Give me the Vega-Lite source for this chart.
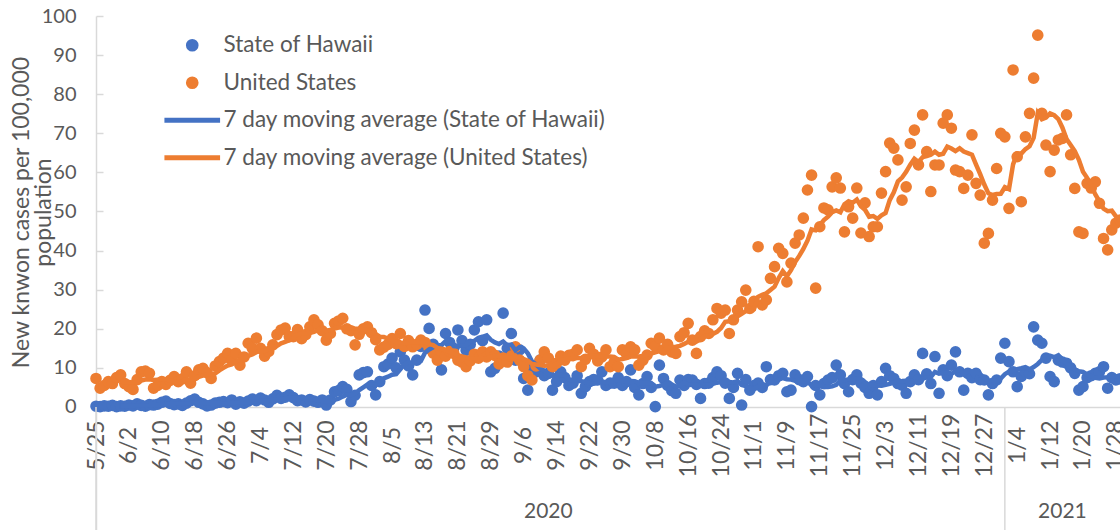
{
  "$schema": "https://vega.github.io/schema/vega-lite/v6.json",
  "width": 1024,
  "height": 514,
  "autosize": {"type": "none"},
  "padding": {"left": 96, "top": 16, "right": 0, "bottom": 0},
  "background": "white",
  "config": {"view": {"stroke": null}, "font": "Lato", "axisX": {"labelOverlap": false}},
  "datasets": {
    "years": [
      {"year": "2020", "start": "2020-05-25", "mid": "2020-09-12"},
      {"year": "2021", "start": "2021-01-01", "mid": "2021-01-15"}
    ],
    "daily": [
      {"date": "2020-05-25", "hawaii": 0.2, "us": 7.3},
      {"date": "2020-05-26", "hawaii": 0.1, "us": 4.8},
      {"date": "2020-05-27", "hawaii": 0.3, "us": 5.5},
      {"date": "2020-05-28", "hawaii": 0.2, "us": 6.5},
      {"date": "2020-05-29", "hawaii": 0.4, "us": 6.0},
      {"date": "2020-05-30", "hawaii": 0.1, "us": 7.5},
      {"date": "2020-05-31", "hawaii": 0.3, "us": 8.2},
      {"date": "2020-06-01", "hawaii": 0.2, "us": 6.0},
      {"date": "2020-06-02", "hawaii": 0.5, "us": 5.2},
      {"date": "2020-06-03", "hawaii": 0.3, "us": 4.5},
      {"date": "2020-06-04", "hawaii": 0.8, "us": 7.0},
      {"date": "2020-06-05", "hawaii": 0.4, "us": 9.0},
      {"date": "2020-06-06", "hawaii": 0.2, "us": 9.2},
      {"date": "2020-06-07", "hawaii": 0.6, "us": 8.6},
      {"date": "2020-06-08", "hawaii": 0.5, "us": 4.8},
      {"date": "2020-06-09", "hawaii": 0.7, "us": 5.5},
      {"date": "2020-06-10", "hawaii": 1.2, "us": 6.5},
      {"date": "2020-06-11", "hawaii": 1.5, "us": 5.8},
      {"date": "2020-06-12", "hawaii": 0.9, "us": 6.8},
      {"date": "2020-06-13", "hawaii": 0.6, "us": 7.8},
      {"date": "2020-06-14", "hawaii": 0.8, "us": 6.5},
      {"date": "2020-06-15", "hawaii": 0.4, "us": 7.2},
      {"date": "2020-06-16", "hawaii": 1.0, "us": 9.0},
      {"date": "2020-06-17", "hawaii": 1.6, "us": 6.1},
      {"date": "2020-06-18", "hawaii": 2.0, "us": 8.0},
      {"date": "2020-06-19", "hawaii": 1.2, "us": 9.5},
      {"date": "2020-06-20", "hawaii": 0.8, "us": 9.9},
      {"date": "2020-06-21", "hawaii": 0.3, "us": 8.8},
      {"date": "2020-06-22", "hawaii": 0.5, "us": 7.3},
      {"date": "2020-06-23", "hawaii": 1.0, "us": 10.5},
      {"date": "2020-06-24", "hawaii": 1.2, "us": 11.6},
      {"date": "2020-06-25", "hawaii": 1.4, "us": 12.5},
      {"date": "2020-06-26", "hawaii": 1.1, "us": 13.7},
      {"date": "2020-06-27", "hawaii": 1.8, "us": 12.0},
      {"date": "2020-06-28", "hawaii": 0.7, "us": 13.7},
      {"date": "2020-06-29", "hawaii": 1.3, "us": 10.7},
      {"date": "2020-06-30", "hawaii": 1.0, "us": 12.8},
      {"date": "2020-07-01", "hawaii": 1.5, "us": 16.3},
      {"date": "2020-07-02", "hawaii": 2.0, "us": 15.0},
      {"date": "2020-07-03", "hawaii": 1.6, "us": 17.6},
      {"date": "2020-07-04", "hawaii": 2.3, "us": 15.0},
      {"date": "2020-07-05", "hawaii": 1.8, "us": 13.0},
      {"date": "2020-07-06", "hawaii": 1.2, "us": 14.2},
      {"date": "2020-07-07", "hawaii": 2.1, "us": 15.9},
      {"date": "2020-07-08", "hawaii": 3.0, "us": 18.5},
      {"date": "2020-07-09", "hawaii": 2.2, "us": 19.7},
      {"date": "2020-07-10", "hawaii": 2.5, "us": 20.2},
      {"date": "2020-07-11", "hawaii": 3.1, "us": 18.0},
      {"date": "2020-07-12", "hawaii": 2.4, "us": 18.0},
      {"date": "2020-07-13", "hawaii": 1.6, "us": 19.8},
      {"date": "2020-07-14", "hawaii": 1.8, "us": 17.5},
      {"date": "2020-07-15", "hawaii": 1.3, "us": 18.5},
      {"date": "2020-07-16", "hawaii": 1.9, "us": 20.5},
      {"date": "2020-07-17", "hawaii": 1.5, "us": 22.3},
      {"date": "2020-07-18", "hawaii": 1.2, "us": 21.0},
      {"date": "2020-07-19", "hawaii": 1.8, "us": 19.5},
      {"date": "2020-07-20", "hawaii": 0.5, "us": 17.1},
      {"date": "2020-07-21", "hawaii": 1.8, "us": 18.8},
      {"date": "2020-07-22", "hawaii": 3.9, "us": 21.4},
      {"date": "2020-07-23", "hawaii": 4.2, "us": 22.0},
      {"date": "2020-07-24", "hawaii": 5.2, "us": 22.7},
      {"date": "2020-07-25", "hawaii": 4.5, "us": 20.0},
      {"date": "2020-07-26", "hawaii": 1.4, "us": 19.5},
      {"date": "2020-07-27", "hawaii": 3.0, "us": 15.9},
      {"date": "2020-07-28", "hawaii": 8.2, "us": 18.6},
      {"date": "2020-07-29", "hawaii": 8.8, "us": 20.0},
      {"date": "2020-07-30", "hawaii": 9.0, "us": 20.5},
      {"date": "2020-07-31", "hawaii": 5.5, "us": 19.0},
      {"date": "2020-08-01", "hawaii": 3.1, "us": 17.2},
      {"date": "2020-08-02", "hawaii": 6.5, "us": 14.6},
      {"date": "2020-08-03", "hawaii": 10.3, "us": 15.3},
      {"date": "2020-08-04", "hawaii": 11.0, "us": 16.0},
      {"date": "2020-08-05", "hawaii": 12.5, "us": 17.5},
      {"date": "2020-08-06", "hawaii": 10.0, "us": 16.2},
      {"date": "2020-08-07", "hawaii": 14.1, "us": 18.8},
      {"date": "2020-08-08", "hawaii": 12.0, "us": 15.5},
      {"date": "2020-08-09", "hawaii": 10.5, "us": 17.0},
      {"date": "2020-08-10", "hawaii": 8.2, "us": 15.4},
      {"date": "2020-08-11", "hawaii": 12.0, "us": 16.0},
      {"date": "2020-08-12", "hawaii": 15.5, "us": 17.1},
      {"date": "2020-08-13", "hawaii": 24.8, "us": 16.5},
      {"date": "2020-08-14", "hawaii": 20.1, "us": 15.0},
      {"date": "2020-08-15", "hawaii": 16.0, "us": 13.8},
      {"date": "2020-08-16", "hawaii": 13.0, "us": 12.0},
      {"date": "2020-08-17", "hawaii": 9.5, "us": 14.1},
      {"date": "2020-08-18", "hawaii": 18.8, "us": 13.0},
      {"date": "2020-08-19", "hawaii": 16.5, "us": 14.2},
      {"date": "2020-08-20", "hawaii": 15.0, "us": 13.7},
      {"date": "2020-08-21", "hawaii": 19.7, "us": 12.0},
      {"date": "2020-08-22", "hawaii": 17.0, "us": 11.5},
      {"date": "2020-08-23", "hawaii": 14.5, "us": 10.3},
      {"date": "2020-08-24", "hawaii": 16.0, "us": 11.8},
      {"date": "2020-08-25", "hawaii": 19.7, "us": 13.5},
      {"date": "2020-08-26", "hawaii": 21.8, "us": 12.5},
      {"date": "2020-08-27", "hawaii": 17.0, "us": 14.1},
      {"date": "2020-08-28", "hawaii": 22.3, "us": 12.8},
      {"date": "2020-08-29", "hawaii": 9.0, "us": 14.1},
      {"date": "2020-08-30", "hawaii": 9.9, "us": 13.2},
      {"date": "2020-08-31", "hawaii": 13.0, "us": 11.0},
      {"date": "2020-09-01", "hawaii": 24.0, "us": 12.5},
      {"date": "2020-09-02", "hawaii": 15.0, "us": 11.5},
      {"date": "2020-09-03", "hawaii": 18.8, "us": 13.0},
      {"date": "2020-09-04", "hawaii": 12.0, "us": 15.4},
      {"date": "2020-09-05", "hawaii": 14.6, "us": 12.0},
      {"date": "2020-09-06", "hawaii": 7.3, "us": 10.3},
      {"date": "2020-09-07", "hawaii": 4.3, "us": 8.0},
      {"date": "2020-09-08", "hawaii": 10.0, "us": 6.9},
      {"date": "2020-09-09", "hawaii": 9.0, "us": 10.5},
      {"date": "2020-09-10", "hawaii": 12.0, "us": 12.0},
      {"date": "2020-09-11", "hawaii": 8.0, "us": 14.1},
      {"date": "2020-09-12", "hawaii": 8.6, "us": 12.5},
      {"date": "2020-09-13", "hawaii": 4.3, "us": 10.3},
      {"date": "2020-09-14", "hawaii": 6.5, "us": 11.2},
      {"date": "2020-09-15", "hawaii": 9.0, "us": 13.0},
      {"date": "2020-09-16", "hawaii": 7.5, "us": 12.0},
      {"date": "2020-09-17", "hawaii": 5.5, "us": 13.2},
      {"date": "2020-09-18", "hawaii": 6.1, "us": 13.5},
      {"date": "2020-09-19", "hawaii": 8.0, "us": 14.6},
      {"date": "2020-09-20", "hawaii": 3.5, "us": 10.3},
      {"date": "2020-09-21", "hawaii": 5.2, "us": 12.2},
      {"date": "2020-09-22", "hawaii": 6.5, "us": 15.0},
      {"date": "2020-09-23", "hawaii": 7.0, "us": 13.5},
      {"date": "2020-09-24", "hawaii": 6.9, "us": 11.8},
      {"date": "2020-09-25", "hawaii": 9.0, "us": 12.8},
      {"date": "2020-09-26", "hawaii": 5.5, "us": 14.6},
      {"date": "2020-09-27", "hawaii": 6.1, "us": 10.3},
      {"date": "2020-09-28", "hawaii": 6.1, "us": 11.5},
      {"date": "2020-09-29", "hawaii": 7.5, "us": 10.3},
      {"date": "2020-09-30", "hawaii": 5.5, "us": 14.6},
      {"date": "2020-10-01", "hawaii": 6.5, "us": 13.5},
      {"date": "2020-10-02", "hawaii": 9.5, "us": 15.4},
      {"date": "2020-10-03", "hawaii": 5.0, "us": 14.6},
      {"date": "2020-10-04", "hawaii": 3.1, "us": 10.7},
      {"date": "2020-10-05", "hawaii": 6.0, "us": 12.0},
      {"date": "2020-10-06", "hawaii": 7.8, "us": 13.3},
      {"date": "2020-10-07", "hawaii": 5.0, "us": 16.3},
      {"date": "2020-10-08", "hawaii": 0.1, "us": 15.5},
      {"date": "2020-10-09", "hawaii": 10.7, "us": 17.6},
      {"date": "2020-10-10", "hawaii": 7.3, "us": 14.6},
      {"date": "2020-10-11", "hawaii": 5.5, "us": 16.0},
      {"date": "2020-10-12", "hawaii": 4.2, "us": 14.1},
      {"date": "2020-10-13", "hawaii": 3.5, "us": 13.7},
      {"date": "2020-10-14", "hawaii": 6.9, "us": 18.0},
      {"date": "2020-10-15", "hawaii": 5.5, "us": 19.0},
      {"date": "2020-10-16", "hawaii": 7.0, "us": 21.4},
      {"date": "2020-10-17", "hawaii": 6.9, "us": 17.1},
      {"date": "2020-10-18", "hawaii": 5.8, "us": 13.7},
      {"date": "2020-10-19", "hawaii": 2.2, "us": 18.0},
      {"date": "2020-10-20", "hawaii": 6.0, "us": 19.5},
      {"date": "2020-10-21", "hawaii": 6.1, "us": 18.8},
      {"date": "2020-10-22", "hawaii": 7.5, "us": 22.3},
      {"date": "2020-10-23", "hawaii": 9.0, "us": 25.2},
      {"date": "2020-10-24", "hawaii": 8.0, "us": 24.0},
      {"date": "2020-10-25", "hawaii": 6.1, "us": 24.8},
      {"date": "2020-10-26", "hawaii": 2.2, "us": 18.8},
      {"date": "2020-10-27", "hawaii": 5.0, "us": 22.3},
      {"date": "2020-10-28", "hawaii": 8.6, "us": 24.8},
      {"date": "2020-10-29", "hawaii": 0.5, "us": 26.9},
      {"date": "2020-10-30", "hawaii": 7.0, "us": 29.9},
      {"date": "2020-10-31", "hawaii": 4.3, "us": 25.2},
      {"date": "2020-11-01", "hawaii": 5.5, "us": 27.0},
      {"date": "2020-11-02", "hawaii": 6.1, "us": 41.0},
      {"date": "2020-11-03", "hawaii": 5.0, "us": 26.1},
      {"date": "2020-11-04", "hawaii": 10.3, "us": 27.4},
      {"date": "2020-11-05", "hawaii": 7.0, "us": 32.9},
      {"date": "2020-11-06", "hawaii": 6.9, "us": 35.9},
      {"date": "2020-11-07", "hawaii": 8.0, "us": 40.6},
      {"date": "2020-11-08", "hawaii": 8.6, "us": 39.3},
      {"date": "2020-11-09", "hawaii": 3.9, "us": 32.0},
      {"date": "2020-11-10", "hawaii": 4.3, "us": 36.8},
      {"date": "2020-11-11", "hawaii": 8.2, "us": 41.9},
      {"date": "2020-11-12", "hawaii": 7.0, "us": 44.0},
      {"date": "2020-11-13", "hawaii": 6.5, "us": 48.3},
      {"date": "2020-11-14", "hawaii": 7.8, "us": 55.5},
      {"date": "2020-11-15", "hawaii": 0.1, "us": 59.3},
      {"date": "2020-11-16", "hawaii": 5.5, "us": 30.4},
      {"date": "2020-11-17", "hawaii": 3.1, "us": 46.1},
      {"date": "2020-11-18", "hawaii": 6.0, "us": 50.9},
      {"date": "2020-11-19", "hawaii": 6.9, "us": 50.4},
      {"date": "2020-11-20", "hawaii": 7.5, "us": 56.3},
      {"date": "2020-11-21", "hawaii": 10.7, "us": 58.6},
      {"date": "2020-11-22", "hawaii": 8.2, "us": 56.0},
      {"date": "2020-11-23", "hawaii": 6.0, "us": 44.8},
      {"date": "2020-11-24", "hawaii": 3.9, "us": 51.2},
      {"date": "2020-11-25", "hawaii": 7.0, "us": 48.3},
      {"date": "2020-11-26", "hawaii": 8.2, "us": 56.0},
      {"date": "2020-11-27", "hawaii": 6.1, "us": 44.5},
      {"date": "2020-11-28", "hawaii": 5.0, "us": 52.2},
      {"date": "2020-11-29", "hawaii": 3.5, "us": 43.6},
      {"date": "2020-11-30", "hawaii": 5.5, "us": 46.1},
      {"date": "2020-12-01", "hawaii": 3.1, "us": 46.1},
      {"date": "2020-12-02", "hawaii": 6.5, "us": 54.7},
      {"date": "2020-12-03", "hawaii": 9.9, "us": 60.2},
      {"date": "2020-12-04", "hawaii": 8.0, "us": 67.5},
      {"date": "2020-12-05", "hawaii": 7.3, "us": 66.2},
      {"date": "2020-12-06", "hawaii": 6.0, "us": 63.2},
      {"date": "2020-12-07", "hawaii": 5.6, "us": 52.9},
      {"date": "2020-12-08", "hawaii": 3.5, "us": 56.3},
      {"date": "2020-12-09", "hawaii": 6.5, "us": 67.4},
      {"date": "2020-12-10", "hawaii": 8.2, "us": 70.8},
      {"date": "2020-12-11", "hawaii": 7.0, "us": 61.9},
      {"date": "2020-12-12", "hawaii": 13.7, "us": 74.7},
      {"date": "2020-12-13", "hawaii": 8.5, "us": 65.3},
      {"date": "2020-12-14", "hawaii": 6.0, "us": 55.1},
      {"date": "2020-12-15", "hawaii": 12.9, "us": 61.9},
      {"date": "2020-12-16", "hawaii": 3.5, "us": 61.9},
      {"date": "2020-12-17", "hawaii": 9.5, "us": 72.6},
      {"date": "2020-12-18", "hawaii": 8.0, "us": 74.7},
      {"date": "2020-12-19", "hawaii": 10.7, "us": 71.3},
      {"date": "2020-12-20", "hawaii": 14.1, "us": 60.6},
      {"date": "2020-12-21", "hawaii": 9.0, "us": 60.2},
      {"date": "2020-12-22", "hawaii": 4.3, "us": 55.9},
      {"date": "2020-12-23", "hawaii": 8.6, "us": 59.3},
      {"date": "2020-12-24", "hawaii": 7.5, "us": 69.6},
      {"date": "2020-12-25", "hawaii": 8.6, "us": 57.2},
      {"date": "2020-12-26", "hawaii": 7.0, "us": 54.2},
      {"date": "2020-12-27", "hawaii": 6.9, "us": 41.9},
      {"date": "2020-12-28", "hawaii": 3.1, "us": 44.4},
      {"date": "2020-12-29", "hawaii": 6.0, "us": 52.9},
      {"date": "2020-12-30", "hawaii": 6.9, "us": 61.0},
      {"date": "2020-12-31", "hawaii": 12.5, "us": 70.0},
      {"date": "2021-01-01", "hawaii": 16.3, "us": 69.1},
      {"date": "2021-01-02", "hawaii": 11.6, "us": 50.8},
      {"date": "2021-01-03", "hawaii": 9.0, "us": 86.2},
      {"date": "2021-01-04", "hawaii": 5.2, "us": 64.0},
      {"date": "2021-01-05", "hawaii": 7.8, "us": 52.5},
      {"date": "2021-01-06", "hawaii": 9.0, "us": 69.1},
      {"date": "2021-01-07", "hawaii": 8.5, "us": 75.1},
      {"date": "2021-01-08", "hawaii": 20.5, "us": 84.1},
      {"date": "2021-01-09", "hawaii": 17.1, "us": 95.1},
      {"date": "2021-01-10", "hawaii": 16.3, "us": 75.1},
      {"date": "2021-01-11", "hawaii": 12.5, "us": 67.0},
      {"date": "2021-01-12", "hawaii": 7.8, "us": 60.2},
      {"date": "2021-01-13", "hawaii": 6.5, "us": 65.7},
      {"date": "2021-01-14", "hawaii": 12.0, "us": 68.3},
      {"date": "2021-01-15", "hawaii": 11.5, "us": 68.7},
      {"date": "2021-01-16", "hawaii": 11.2, "us": 74.7},
      {"date": "2021-01-17", "hawaii": 10.0, "us": 64.5},
      {"date": "2021-01-18", "hawaii": 8.6, "us": 55.9},
      {"date": "2021-01-19", "hawaii": 4.3, "us": 44.8},
      {"date": "2021-01-20", "hawaii": 5.2, "us": 44.4},
      {"date": "2021-01-21", "hawaii": 7.5, "us": 57.2},
      {"date": "2021-01-22", "hawaii": 8.0, "us": 56.0},
      {"date": "2021-01-23", "hawaii": 8.6, "us": 57.6},
      {"date": "2021-01-24", "hawaii": 9.0, "us": 52.1},
      {"date": "2021-01-25", "hawaii": 10.3, "us": 43.1},
      {"date": "2021-01-26", "hawaii": 4.8, "us": 40.2},
      {"date": "2021-01-27", "hawaii": 7.5, "us": 45.3},
      {"date": "2021-01-28", "hawaii": 6.9, "us": 47.0},
      {"date": "2021-01-29", "hawaii": 7.2, "us": 47.8}
    ]
  },
  "layer": [
    {
      "data": {"name": "daily"},
      "mark": {"type": "circle", "size": 135, "opacity": 1},
      "encoding": {
        "x": {
          "field": "date", "type": "temporal",
          "scale": {"type": "utc", "domain": [{"year": 2020, "month": 5, "date": 25, "utc": true}, {"year": 2021, "month": 1, "date": 29, "utc": true}]},
          "axis": {
            "orient": "bottom", "offset": -123, "tickCount": 60,
            "values": [
              {"year": 2020, "month": 5, "date": 25, "utc": true},
              {"year": 2020, "month": 6, "date": 2, "utc": true},
              {"year": 2020, "month": 6, "date": 10, "utc": true},
              {"year": 2020, "month": 6, "date": 18, "utc": true},
              {"year": 2020, "month": 6, "date": 26, "utc": true},
              {"year": 2020, "month": 7, "date": 4, "utc": true},
              {"year": 2020, "month": 7, "date": 12, "utc": true},
              {"year": 2020, "month": 7, "date": 20, "utc": true},
              {"year": 2020, "month": 7, "date": 28, "utc": true},
              {"year": 2020, "month": 8, "date": 5, "utc": true},
              {"year": 2020, "month": 8, "date": 13, "utc": true},
              {"year": 2020, "month": 8, "date": 21, "utc": true},
              {"year": 2020, "month": 8, "date": 29, "utc": true},
              {"year": 2020, "month": 9, "date": 6, "utc": true},
              {"year": 2020, "month": 9, "date": 14, "utc": true},
              {"year": 2020, "month": 9, "date": 22, "utc": true},
              {"year": 2020, "month": 9, "date": 30, "utc": true},
              {"year": 2020, "month": 10, "date": 8, "utc": true},
              {"year": 2020, "month": 10, "date": 16, "utc": true},
              {"year": 2020, "month": 10, "date": 24, "utc": true},
              {"year": 2020, "month": 11, "date": 1, "utc": true},
              {"year": 2020, "month": 11, "date": 9, "utc": true},
              {"year": 2020, "month": 11, "date": 17, "utc": true},
              {"year": 2020, "month": 11, "date": 25, "utc": true},
              {"year": 2020, "month": 12, "date": 3, "utc": true},
              {"year": 2020, "month": 12, "date": 11, "utc": true},
              {"year": 2020, "month": 12, "date": 19, "utc": true},
              {"year": 2020, "month": 12, "date": 27, "utc": true},
              {"year": 2021, "month": 1, "date": 4, "utc": true},
              {"year": 2021, "month": 1, "date": 12, "utc": true},
              {"year": 2021, "month": 1, "date": 20, "utc": true},
              {"year": 2021, "month": 1, "date": 28, "utc": true}
            ],
            "labelExpr": "utcFormat(datum.value, '%-m/%-d')",
            "labelAngle": 270, "labelAlign": "center", "labelBaseline": "middle",
            "labelPadding": 38, "ticks": false, "grid": false,
            "domainColor": "#d9d9d9", "domainWidth": 1.5,
            "labelFont": "Lato", "labelFontSize": 23, "labelColor": "#595959",
            "title": null, "labelOverlap": false, "labelFlush": false, "labelBound": false
          }
        },
        "y": {
          "field": "hawaii", "type": "quantitative",
          "scale": {"domain": [-31.46, 100], "nice": false, "zero": false},
          "axis": {
            "orient": "left",
            "values": [0, 10, 20, 30, 40, 50, 60, 70, 80, 90, 100],
            "grid": false, "domainColor": "#d9d9d9", "domainWidth": 1.5,
            "tickColor": "#d9d9d9", "tickSize": -7, "tickWidth": 1.5, "labelPadding": 27,
            "labelFont": "Lato", "labelFontSize": 20, "labelColor": "#595959",
            "title": ["New knwon cases per 100,000", "population"],
            "titleFont": "Lato", "titleFontSize": 23, "titleFontWeight": "normal", "titleColor": "#595959",
            "titleAngle": 270, "titleAlign": "center", "titleBaseline": "top",
            "titleX": -86, "titleY": 196, "titleLineHeight": 22
          }
        },
        "color": {
          "datum": "State of Hawaii", "type": "nominal",
          "scale": {
            "domain": ["State of Hawaii", "United States", "7 day moving average (State of Hawaii)", "7 day moving average (United States)"],
            "range": ["#4472C4", "#ED7D31", "#4472C4", "#ED7D31"]
          },
          "legend": {
            "orient": "none", "legendX": 85, "legendY": 18, "title": null, "direction": "vertical",
            "padding": 0, "labelFont": "Lato", "labelFontSize": 22.5, "labelColor": "#595959",
            "symbolSize": 160, "symbolStrokeWidth": 0, "labelOffset": 20, "rowPadding": 14.5, "labelLimit": 600,
            "encode": {
              "symbols": {
                "update": {
                  "shape": {"signal": "indexof(datum.value, '7 day') == 0 ? 'M-4.4,-0.4H4.4V0.4H-4.4Z' : 'circle'"},
                  "fill": {"signal": "indexof(datum.value, 'Hawaii') >= 0 ? '#4472C4' : '#ED7D31'"},
                  "stroke": {"value": "transparent"},
                  "strokeWidth": {"value": 0},
                  "size": {"value": 160},
                  "opacity": {"value": 1}
                }
              }
            }
          }
        }
      }
    },
    {
      "data": {"name": "daily"},
      "mark": {"type": "circle", "size": 135, "opacity": 1},
      "encoding": {
        "x": {"field": "date", "type": "temporal"},
        "y": {"field": "us", "type": "quantitative"},
        "color": {
          "datum": "United States", "type": "nominal",
          "legend": {
            "orient": "none", "legendX": 85, "legendY": 18, "title": null, "direction": "vertical",
            "padding": 0, "labelFont": "Lato", "labelFontSize": 22.5, "labelColor": "#595959",
            "symbolSize": 160, "symbolStrokeWidth": 0, "labelOffset": 20, "rowPadding": 14.5, "labelLimit": 600,
            "encode": {
              "symbols": {
                "update": {
                  "shape": {"signal": "indexof(datum.value, '7 day') == 0 ? 'M-4.4,-0.4H4.4V0.4H-4.4Z' : 'circle'"},
                  "fill": {"signal": "indexof(datum.value, 'Hawaii') >= 0 ? '#4472C4' : '#ED7D31'"},
                  "stroke": {"value": "transparent"},
                  "strokeWidth": {"value": 0},
                  "size": {"value": 160},
                  "opacity": {"value": 1}
                }
              }
            }
          }
        }
      }
    },
    {
      "data": {"name": "daily"},
      "transform": [
        {"window": [{"op": "mean", "field": "hawaii", "as": "ma"}, {"op": "row_number", "as": "rn"}], "sort": [{"field": "date"}], "frame": [-6, 0]},
        {"filter": "datum.rn >= 7"}
      ],
      "mark": {"type": "line", "strokeWidth": 4.5},
      "encoding": {
        "x": {"field": "date", "type": "temporal"},
        "y": {"field": "ma", "type": "quantitative"},
        "color": {
          "datum": "7 day moving average (State of Hawaii)", "type": "nominal",
          "legend": {
            "orient": "none", "legendX": 85, "legendY": 18, "title": null, "direction": "vertical",
            "padding": 0, "labelFont": "Lato", "labelFontSize": 22.5, "labelColor": "#595959",
            "symbolSize": 160, "symbolStrokeWidth": 0, "labelOffset": 20, "rowPadding": 14.5, "labelLimit": 600,
            "encode": {
              "symbols": {
                "update": {
                  "shape": {"signal": "indexof(datum.value, '7 day') == 0 ? 'M-4.4,-0.4H4.4V0.4H-4.4Z' : 'circle'"},
                  "fill": {"signal": "indexof(datum.value, 'Hawaii') >= 0 ? '#4472C4' : '#ED7D31'"},
                  "stroke": {"value": "transparent"},
                  "strokeWidth": {"value": 0},
                  "size": {"value": 160},
                  "opacity": {"value": 1}
                }
              }
            }
          }
        }
      }
    },
    {
      "data": {"name": "daily"},
      "transform": [
        {"window": [{"op": "mean", "field": "us", "as": "ma"}, {"op": "row_number", "as": "rn"}], "sort": [{"field": "date"}], "frame": [-6, 0]},
        {"filter": "datum.rn >= 7"}
      ],
      "mark": {"type": "line", "strokeWidth": 4.5},
      "encoding": {
        "x": {"field": "date", "type": "temporal"},
        "y": {"field": "ma", "type": "quantitative"},
        "color": {
          "datum": "7 day moving average (United States)", "type": "nominal",
          "legend": {
            "orient": "none", "legendX": 85, "legendY": 18, "title": null, "direction": "vertical",
            "padding": 0, "labelFont": "Lato", "labelFontSize": 22.5, "labelColor": "#595959",
            "symbolSize": 160, "symbolStrokeWidth": 0, "labelOffset": 20, "rowPadding": 14.5, "labelLimit": 600,
            "encode": {
              "symbols": {
                "update": {
                  "shape": {"signal": "indexof(datum.value, '7 day') == 0 ? 'M-4.4,-0.4H4.4V0.4H-4.4Z' : 'circle'"},
                  "fill": {"signal": "indexof(datum.value, 'Hawaii') >= 0 ? '#4472C4' : '#ED7D31'"},
                  "stroke": {"value": "transparent"},
                  "strokeWidth": {"value": 0},
                  "size": {"value": 160},
                  "opacity": {"value": 1}
                }
              }
            }
          }
        }
      }
    },
    {
      "data": {"name": "years"},
      "mark": {"type": "rule", "color": "#d9d9d9", "strokeWidth": 1.5},
      "encoding": {
        "x": {"field": "start", "type": "temporal"},
        "y": {"datum": 0},
        "y2": {"datum": -31.46}
      }
    },
    {
      "data": {"name": "years"},
      "mark": {"type": "text", "font": "Lato", "fontSize": 21, "color": "#595959", "baseline": "middle", "align": "center"},
      "encoding": {
        "x": {"field": "mid", "type": "temporal"},
        "y": {"datum": -26.9},
        "text": {"field": "year"}
      }
    }
  ]
}
